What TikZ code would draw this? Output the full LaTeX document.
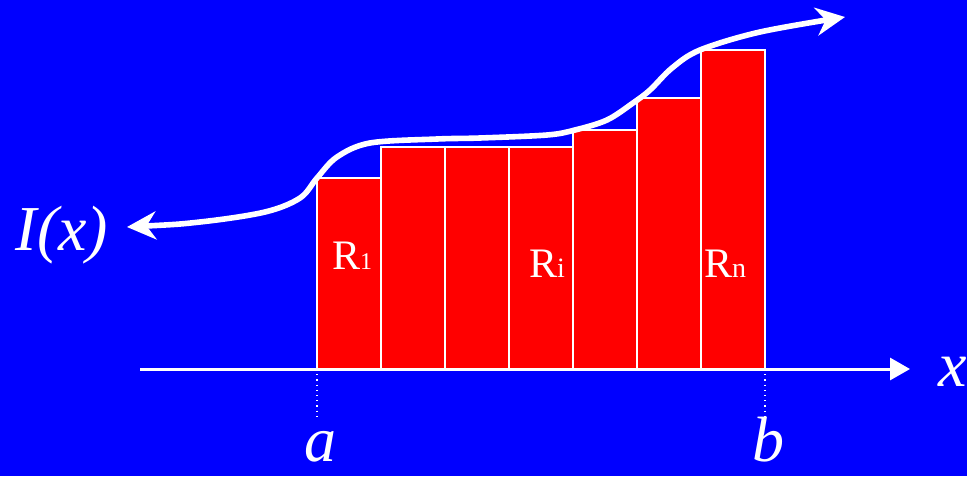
\documentclass[tikz,border=0pt]{standalone}
\usepackage{fontspec}
\setmainfont{Liberation Serif}
\usetikzlibrary{arrows.meta}
\definecolor{bgblue}{HTML}{0000FF}
\definecolor{barred}{HTML}{FF0000}
\begin{document}
\begin{tikzpicture}[x=0.5pt, y=-0.5pt,
  bar/.style={draw=white, fill=barred, line width=0.9pt, minimum width=32pt,
              inner sep=0pt, outer sep=0pt, anchor=south west},
  lbl/.style={text=white, inner sep=0pt, anchor=base},
  big/.style={lbl, font=\fontsize{32}{32}\selectfont\itshape},
  rlab/.style={lbl, font=\fontsize{21}{21}\selectfont},
  axis/.style={white, line width=1.5pt, -{Triangle[length=10pt, width=11pt]}},
  curve/.style={white, line width=2.8pt, {Stealth[length=14.5pt, width=14pt]}-{Stealth[length=14.5pt, width=14pt]}}]
\fill[bgblue] (0,0) rectangle (967,476);
\useasboundingbox (0,0) rectangle (967,476);
% bars R_1 ... R_n
\foreach \t [count=\i] in {178,147,147,147,130,98,50} {
  \pgfmathsetmacro\h{(369-\t)*0.5}
  \node[bar, minimum height=\h pt] (r\i) at ({317+64*(\i-1)}, 369) {};
}
\node[rlab] (l1) at (352, 269) {R{\fontsize{12}{12}\selectfont 1}};
\node[rlab] (li) at (547, 277) {R{\fontsize{14}{14}\selectfont i}};
\node[rlab] (ln) at (725, 277) {R{\fontsize{14}{14}\selectfont n}};
% x axis
\coordinate (o) at (140, 369);
\coordinate (xe) at (910, 369);
\draw[axis] (o) -- (xe);
\node[big, anchor=base west] (xl) at (938, 386) {x};
% limits
\coordinate (da) at (317, 416);
\coordinate (db) at (765, 416);
\draw[white, line width=0.6pt, dotted] (r1.south west) -- (da);
\draw[white, line width=0.6pt, dotted] (r7.south east) -- (db);
\node[big] (a) at (320, 461) {a};
\node[big] (b) at (768, 461) {b};
% the curve I(x)
\draw[curve] plot[smooth, tension=0.55] coordinates {(127,227) (200,222) (265,212) (300,198)
  (317,178) (337,157) (370,143) (437,139) (480,138) (547,135) (575,130) (607,120)
  (633,103) (650,90) (672,68) (700,50) (760,32) (845,17)};
\node[big] (ix) at (62, 250) {I(x)};
\end{tikzpicture}
\end{document}
